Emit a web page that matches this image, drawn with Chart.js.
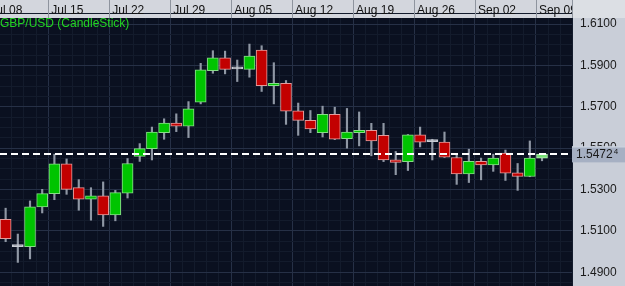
<!DOCTYPE html>
<html><head><meta charset="utf-8">
<style>html,body{margin:0;padding:0;background:#c9ced8;overflow:hidden}#wrap{width:625px;height:286px;position:relative}</style>
<script src="https://cdn.jsdelivr.net/npm/chart.js@4.4.0/dist/chart.umd.min.js"></script>
</head><body><div id="wrap"><canvas id="c" width="625" height="286"></canvas></div>
<script>
const seriesTitle = 'GBP/USD (CandleStick)';
const dates = ['2013-07-09','2013-07-10','2013-07-11','2013-07-12',
  '2013-07-15','2013-07-16','2013-07-17','2013-07-18','2013-07-19',
  '2013-07-22','2013-07-23','2013-07-24','2013-07-25','2013-07-26',
  '2013-07-29','2013-07-30','2013-07-31','2013-08-01','2013-08-02',
  '2013-08-05','2013-08-06','2013-08-07','2013-08-08','2013-08-09',
  '2013-08-12','2013-08-13','2013-08-14','2013-08-15','2013-08-16',
  '2013-08-19','2013-08-20','2013-08-21','2013-08-22','2013-08-23',
  '2013-08-26','2013-08-27','2013-08-28','2013-08-29','2013-08-30',
  '2013-09-02','2013-09-03','2013-09-04','2013-09-05','2013-09-06',
  '2013-09-09'];
const open  = [1.5156,1.5024,1.5024,1.5216, 1.5280,1.5424,1.5309,1.5253,1.5270, 1.5178,1.5283,1.5460,1.5498,1.5575, 1.5621,1.5606,1.5722,1.5875,1.5937, 1.5883,1.5881,1.5974,1.5802,1.5813, 1.5680,1.5634,1.5575,1.5663,1.5546, 1.5575,1.5586,1.5562,1.5444,1.5435, 1.5564,1.5532,1.5529,1.5455,1.5376, 1.5436,1.5419,1.5476,1.5381,1.5363, 1.5452];
const high  = [1.5210,1.5085,1.5245,1.5301, 1.5471,1.5448,1.5348,1.5309,1.5337, 1.5296,1.5450,1.5522,1.5602,1.5642, 1.5666,1.5725,1.5910,1.5971,1.5969, 1.5926,1.6003,1.5995,1.5913,1.5827, 1.5718,1.5682,1.5703,1.5698,1.5692, 1.5675,1.5620,1.5620,1.5484,1.5566, 1.5602,1.5543,1.5578,1.5471,1.5495, 1.5452,1.5471,1.5491,1.5426,1.5535, 1.5472];
const low   = [1.5048,1.4948,1.4965,1.5187, 1.5251,1.5277,1.5200,1.5152,1.5122, 1.5149,1.5259,1.5436,1.5443,1.5543, 1.5580,1.5551,1.5714,1.5862,1.5859, 1.5822,1.5843,1.5774,1.5714,1.5615, 1.5562,1.5575,1.5554,1.5541,1.5500, 1.5511,1.5463,1.5435,1.5372,1.5392, 1.5506,1.5443,1.5455,1.5325,1.5334, 1.5347,1.5388,1.5344,1.5296,1.5362, 1.5439];
const close = [1.5063,1.5024,1.5216,1.5280, 1.5424,1.5301,1.5253,1.5270,1.5178, 1.5285,1.5426,1.5498,1.5578,1.5621, 1.5606,1.5690,1.5878,1.5937,1.5881, 1.5883,1.5945,1.5802,1.5813,1.5679, 1.5634,1.5593,1.5663,1.5543,1.5578, 1.5586,1.5535,1.5443,1.5431,1.5564, 1.5529,1.5532,1.5457,1.5376,1.5436, 1.5419,1.5452,1.5379,1.5363,1.5452, 1.5472];
const weekLabels = ['Jul 08','Jul 15','Jul 22','Jul 29','Aug 05','Aug 12','Aug 19','Aug 26','Sep 02','Sep 09'];
const priceTicks = [1.49,1.51,1.53,1.55,1.57,1.59,1.61];
const lastPrice = 1.54724;

// trading-day index counted from Monday 2013-07-08 (weekdays only)
const START = Date.UTC(2013,6,8);
function dayIndex(s){
  const d = new Date(s+'T00:00:00Z').getTime();
  const days = Math.round((d-START)/86400000);
  return Math.floor(days/7)*5 + (days%7);
}
const idx = dates.map(dayIndex);
const X_MIN = 0.538, X_MAX = 47.46;
const Y_MIN = 1.4834, Y_MAX = 1.6129;

const FONT = '"Liberation Sans", Arial, sans-serif';
Chart.defaults.font.family = FONT;

function bodyColor(i, alt){
  const last = i === close.length-1;
  if (close[i] > open[i]) return last ? (alt ? '#b5f0b5' : '#78e078') : (alt ? '#86dd86' : '#00c400');
  if (close[i] < open[i]) return alt ? '#e29a9a' : '#c20000';
  return '#c8ccd4';
}

function noPad(s){ s.paddingLeft = 0; s.paddingRight = 0; s.paddingTop = 0; s.paddingBottom = 0; }

const deco = {
  id: 'deco',
  beforeDraw(chart){
    const {ctx, chartArea: a, width, height} = chart;
    ctx.save();
    ctx.fillStyle = '#c9ced8'; ctx.fillRect(0,0,width,height);
    ctx.fillStyle = '#0a1020'; ctx.fillRect(a.left,a.top,a.right-a.left,a.bottom-a.top);
    ctx.fillStyle = '#d3d6dd'; ctx.fillRect(0,0,a.right,a.top);
    ctx.restore();
  },
  afterDraw(chart){
    const {ctx, chartArea: a, width, scales:{x, y}} = chart;
    ctx.save();
    ctx.strokeStyle = '#8e949e'; ctx.lineWidth = 1;
    x.ticks.forEach(t => {
      const px = Math.round(x.getPixelForValue(t.value)) + 0.5;
      ctx.beginPath(); ctx.moveTo(px,0); ctx.lineTo(px,a.top); ctx.stroke();
    });
    ctx.fillStyle = '#dcdfe4'; ctx.fillRect(a.right,0,width-a.right,a.top);
    ctx.beginPath(); ctx.moveTo(a.right+0.5,0); ctx.lineTo(a.right+0.5,a.top); ctx.stroke();
    // series title
    ctx.font = '12px ' + FONT; ctx.fillStyle = '#22d422'; ctx.textBaseline = 'alphabetic'; ctx.textAlign='left';
    ctx.fillText(seriesTitle, 0, 27);
    // price box
    const py = y.getPixelForValue(lastPrice);
    ctx.fillStyle = '#a6b0c3'; ctx.fillRect(a.right, py-7.5, width-a.right, 16);
    ctx.strokeStyle = '#d9dfe8'; ctx.beginPath(); ctx.moveTo(a.right, py-7); ctx.lineTo(width, py-7); ctx.stroke();
    const s = lastPrice.toFixed(5);
    const main = s.slice(0,6), sup = s.slice(6);
    ctx.fillStyle = '#1a1a1a'; ctx.textBaseline = 'middle'; ctx.font = '12px ' + FONT;
    ctx.fillText(main, a.right+4, py+0.5);
    const w = ctx.measureText(main).width;
    ctx.font = '8px ' + FONT;
    ctx.fillText(sup, a.right+4+w+1, py-2.5);
    ctx.restore();
  }
};

const minorX = [];
for (let i = 0; i <= 48; i++) { if (i % 5 !== 0) minorX.push(i - 0.5); }
const minorY = [];
for (let k = 0; k <= 26; k++) { if (k % 4 !== 1) minorY.push(1.485 + k*0.005); }

new Chart(document.getElementById('c'), {
  type: 'bar',
  data: {
    datasets: [
      {
        label: 'wick',
        data: dates.map((d,i) => ({x: idx[i], y: [low[i], high[i]]})),
        backgroundColor: '#8f97a4',
        borderWidth: 0,
        barThickness: 1.5,
        grouped: false,
        order: 3
      },
      {
        label: 'body',
        data: dates.map((d,i) => ({x: idx[i], y: [open[i], close[i]]})),
        backgroundColor: ctx => bodyColor(ctx.dataIndex, false),
        borderColor: ctx => bodyColor(ctx.dataIndex, true),
        borderWidth: 1,
        borderSkipped: false,
        barThickness: 11,
        minBarLength: 2,
        grouped: false,
        order: 2
      },
      {
        type: 'line',
        label: 'last',
        data: [{x: X_MIN, y: lastPrice}, {x: X_MAX, y: lastPrice}],
        borderColor: '#ffffff',
        borderWidth: 2,
        borderDash: [7,4],
        pointRadius: 0,
        order: 1
      }
    ]
  },
  options: {
    responsive: false,
    animation: false,
    devicePixelRatio: 1,
    layout: {padding: {top: 2, left: 0, right: 0, bottom: 0}},
    plugins: {legend: {display: false}, tooltip: {enabled: false}, title: {display: false}},
    scales: {
      x: {
        type: 'linear', position: 'top', min: X_MIN, max: X_MAX, offset: false,
        afterBuildTicks: s => { s.ticks = weekLabels.map((l,k) => ({value: 5*k - 0.5})); },
        afterFit: s => { s.height = 16; noPad(s); },
        ticks: {
          callback: (v, i) => weekLabels[i],
          align: 'start', labelOffset: 3, autoSkip: false, maxRotation: 0, minRotation: 0,
          color: '#111111', font: {size: 12, family: FONT}, padding: 0
        },
        grid: {color: '#263046', drawTicks: false, lineWidth: 1, offset: false},
        border: {display: false}
      },
      x2: {
        type: 'linear', position: 'top', min: X_MIN, max: X_MAX, z: -1, offset: false,
        afterBuildTicks: s => { s.ticks = minorX.map(v => ({value: v})); },
        afterFit: s => { s.height = 0; noPad(s); },
        ticks: {display: false},
        grid: {color: '#131b2c', drawTicks: false, lineWidth: 1, offset: false},
        border: {display: false}
      },
      y: {
        type: 'linear', position: 'right', min: Y_MIN, max: Y_MAX,
        afterBuildTicks: s => { s.ticks = priceTicks.map(v => ({value: v})); },
        afterFit: s => { s.width = 53; noPad(s); },
        ticks: {callback: v => v.toFixed(4), color: '#1a1a1a', font: {size: 12, family: FONT}, padding: 8},
        grid: {color: '#263046', drawTicks: false, lineWidth: 1},
        border: {display: false}
      },
      y2: {
        type: 'linear', position: 'left', min: Y_MIN, max: Y_MAX, z: -1,
        afterBuildTicks: s => { s.ticks = minorY.map(v => ({value: v})); },
        afterFit: s => { s.width = 0; noPad(s); },
        ticks: {display: false},
        grid: {color: '#131b2c', drawTicks: false, lineWidth: 1},
        border: {display: false}
      }
    }
  },
  plugins: [deco]
});
</script>
</body></html>
